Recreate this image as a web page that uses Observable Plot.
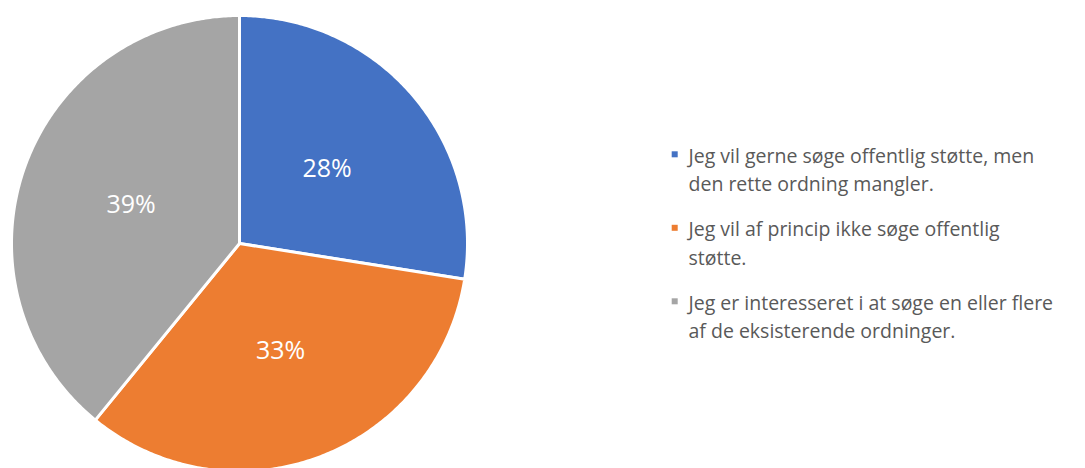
<!DOCTYPE html>
<html>
<head>
<meta charset="utf-8">
<script src="https://cdn.jsdelivr.net/npm/d3@7"></script>
<script src="https://cdn.jsdelivr.net/npm/@observablehq/plot@0.6"></script>
<style>
  body { margin: 0; background: #fff; }
  #chart svg { display: block; }
</style>
</head>
<body>
<div id="chart"></div>
<script>
// ---- Data ----
const categories = [
  "Jeg vil gerne søge offentlig støtte, men\nden rette ordning mangler.",
  "Jeg vil af princip ikke søge offentlig\nstøtte.",
  "Jeg er interesseret i at søge en eller flere\naf de eksisterende ordninger."
];
const shares = [27.5, 33.4, 39.1];
const colors = ["#4472C4", "#ED7D31", "#A5A5A5"];

// ---- Layout ----
const W = 1085, H = 468;
const cx = 239, cy = 243, R = 228;
const labelRadius = 0.505 * R;
const legendX = 688, legendSquareX = 674.7, legendSquareY = 154.3, legendStep = 73.5, sq = 6;
const legendFont = 19.5, legendLine = 28.3, legendTextY = 156;

const arcs = d3.pie().sort(null).value(d => d)(shares);

// polygon points for each slice, derived from the pie angles
const slicePoints = [];
arcs.forEach((a, i) => {
  const n = Math.max(2, Math.ceil((a.endAngle - a.startAngle) / 0.01));
  slicePoints.push({k: categories[i], x: cx, y: cy});
  for (let j = 0; j <= n; j++) {
    const t = a.startAngle + (a.endAngle - a.startAngle) * j / n;
    slicePoints.push({k: categories[i], x: cx + R * Math.sin(t), y: cy - R * Math.cos(t)});
  }
});

const labels = arcs.map((a, i) => {
  const m = (a.startAngle + a.endAngle) / 2;
  return {text: `${Math.round(shares[i])}%`, x: cx + labelRadius * Math.sin(m), y: cy - labelRadius * Math.cos(m)};
});

const legend = categories.map((c, i) => ({k: c, i}));

const chart = Plot.plot({
  width: W,
  height: H,
  margin: 0,
  x: {domain: [0, W], range: [0, W], axis: null},
  y: {domain: [0, H], range: [0, H], axis: null},
  color: {domain: categories, range: colors},
  style: {fontFamily: "'Open Sans', sans-serif", background: "#fff"},
  marks: [
    Plot.line(slicePoints, {
      x: "x", y: "y", z: "k", fill: "k",
      stroke: "white", strokeWidth: 3, strokeLinejoin: "round",
      curve: "linear-closed"
    }),
    Plot.text(labels, {
      x: "x", y: "y", text: "text",
      fill: "white", fontSize: 25, lineAnchor: "middle", textAnchor: "middle"
    }),
    Plot.rect(legend, {
      x1: d => legendSquareX - sq / 2, x2: d => legendSquareX + sq / 2,
      y1: d => legendSquareY + d.i * legendStep - sq / 2,
      y2: d => legendSquareY + d.i * legendStep + sq / 2,
      fill: "k"
    }),
    Plot.text(legend, {
      x: () => legendX,
      y: d => legendTextY + d.i * legendStep - 0.71 * legendFont,
      text: "k",
      textAnchor: "start", lineAnchor: "top",
      fontSize: legendFont, lineHeight: legendLine / legendFont,
      fill: "#595959"
    })
  ]
});

document.getElementById("chart").appendChild(chart);
</script>
</body>
</html>
